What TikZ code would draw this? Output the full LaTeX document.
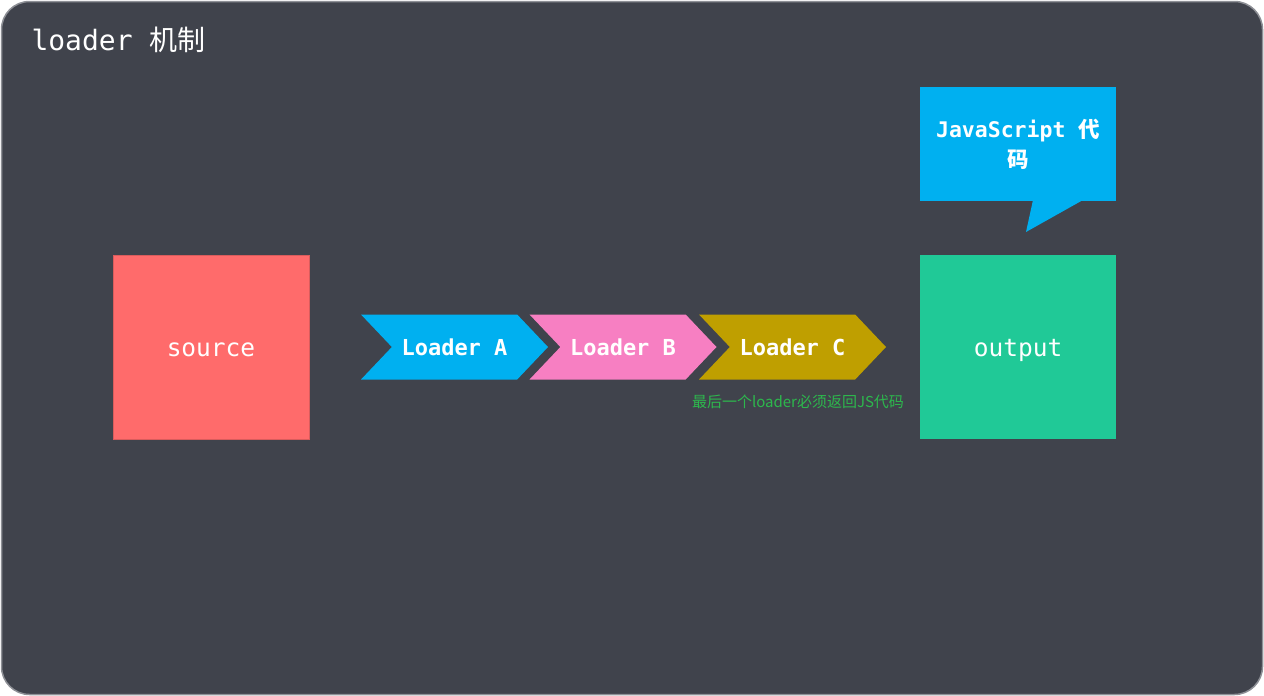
\documentclass[tikz,border=0pt]{standalone}
\usepackage{fontspec}
\setmonofont{DejaVu Sans Mono}
\newfontfamily\cjk{Noto Sans CJK SC}
\usetikzlibrary{shapes.symbols,positioning}
\definecolor{bgdark}{HTML}{40434C}
\definecolor{framegray}{HTML}{8E9096}
\definecolor{srcred}{HTML}{FF6B6B}
\definecolor{srcedge}{HTML}{D95C5C}
\definecolor{jsblue}{HTML}{00B0F0}
\definecolor{pinkb}{HTML}{F77FC2}
\definecolor{oliveb}{HTML}{BF9F00}
\definecolor{outgreen}{HTML}{20C997}
\definecolor{notegreen}{HTML}{2DB84C}

\tikzset{
	box/.style={rectangle,minimum width=196pt,minimum height=184pt,inner sep=0pt,text height=19.4pt,text depth=0pt,text=white,font=\ttfamily\fontsize{24.5}{29}\selectfont},
	chev/.style={signal,signal from=west,signal to=east,signal pointer angle=93,minimum width=187pt,minimum height=65pt,inner sep=0pt,text=white,font=\ttfamily\bfseries\fontsize{22}{26}\selectfont},
}

\begin{document}
\begin{tikzpicture}[x=1pt,y=-1pt]
	\useasboundingbox (0,0) rectangle (1264,696);
	\draw[framegray,line width=1.5pt,fill=bgdark,rounded corners=28pt] (1.5,1.5) rectangle (1262.5,694.5);
	\node[anchor=west,text=white,font=\ttfamily\fontsize{28}{32}\selectfont] (title) at (28,40) {loader {\cjk 机制}};
	\node[box,fill=srcred,draw=srcedge,line width=1pt] (src) at (211,347) {source};
	\node[chev,fill=jsblue] (la) at (454.5,347) {Loader A};
	\node[chev,fill=pinkb] (lb) at (623,347) {Loader B};
	\node[chev,fill=oliveb] (lc) at (792.5,347) {Loader C};
	\node[box,fill=outgreen] (out) at (1018,347) {output};
	\node[box,fill=jsblue,minimum height=114pt,text height=,text depth=,align=center,font=\ttfamily\bfseries\fontsize{21.5}{30}\selectfont] (js) at (1018,144) {JavaScript {\cjk 代}\\{\cjk 码}};
	\coordinate (jstip) at (1026,232);
	\fill[jsblue] (1033,200) -- (jstip) -- (1083,200) -- cycle;
	\node[text=notegreen,font=\cjk\fontsize{15}{18}\selectfont] (hint) at (798,402) {最后一个loader必须返回JS代码};
\end{tikzpicture}
\end{document}
